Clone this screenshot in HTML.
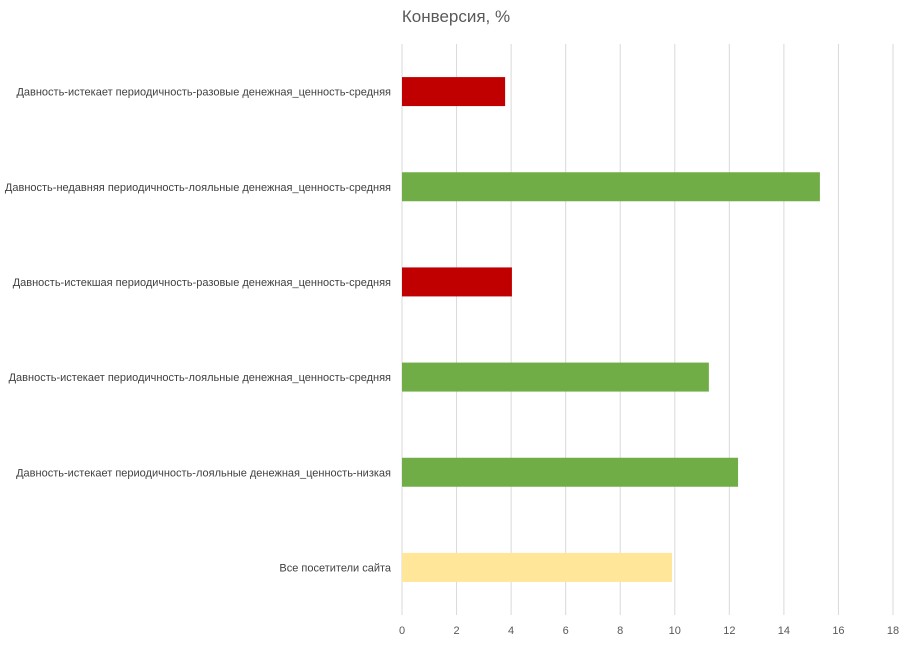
<!DOCTYPE html>
<html><head><meta charset="utf-8">
<style>
body{margin:0;background:#fff;width:911px;height:642px;overflow:hidden;font-family:"Liberation Sans","DejaVu Sans",sans-serif}
</style></head>
<body>
<svg id="chart" width="911" height="642" xmlns="http://www.w3.org/2000/svg">
<text x="456" y="22" text-anchor="middle" font-size="17" fill="#595959" font-family="Liberation Sans, sans-serif">Конверсия, %</text>
<g id="grid"></g><g id="bars"></g><g id="ylabels"></g><g id="xticks"></g>
</svg>
<script>
const categories=["Давность-истекает периодичность-разовые денежная_ценность-средняя","Давность-недавняя периодичность-лояльные денежная_ценность-средняя","Давность-истекшая периодичность-разовые денежная_ценность-средняя","Давность-истекает периодичность-лояльные денежная_ценность-средняя","Давность-истекает периодичность-лояльные денежная_ценность-низкая","Все посетители сайта"];
const values=[3.78,15.32,4.03,11.25,12.32,9.9];
const colors=["#c00000","#70ad47","#c00000","#70ad47","#70ad47","#ffe699"];
const tickLabels=[0,2,4,6,8,10,12,14,16,18];
const NS="http://www.w3.org/2000/svg";
const x0=402,x1=893,xmax=18,plotTop=44,plotBottom=615;
const xs=v=>x0+(x1-x0)*v/xmax;
const band=(plotBottom-plotTop)/categories.length;
const yc=i=>plotTop+band*(i+0.5);
function mk(t,a,p){const e=document.createElementNS(NS,t);for(const k in a)e.setAttribute(k,a[k]);p.appendChild(e);return e;}
const g=document.getElementById('grid'),b=document.getElementById('bars'),yl=document.getElementById('ylabels'),xt=document.getElementById('xticks');
tickLabels.forEach(t=>{
 const l=mk('line',{x1:xs(t),x2:xs(t),y1:plotTop,y2:plotBottom,stroke:'#d9d9d9','stroke-width':1},g);
 
 
 const tx=mk('text',{x:xs(t),y:634,'text-anchor':'middle','font-size':11,fill:'#595959'},xt);
 tx.textContent=t;
 
 
});
categories.forEach((c,i)=>{
 const r=mk('rect',{x:x0,y:yc(i)-14.5,width:xs(values[i])-x0,height:29,fill:colors[i]},b);
 
 
 const tx=mk('text',{x:391,y:yc(i)+4,'text-anchor':'end','font-size':11,fill:'#404040'},yl);
 tx.textContent=c;
 
 
});
</script>
</body></html>
